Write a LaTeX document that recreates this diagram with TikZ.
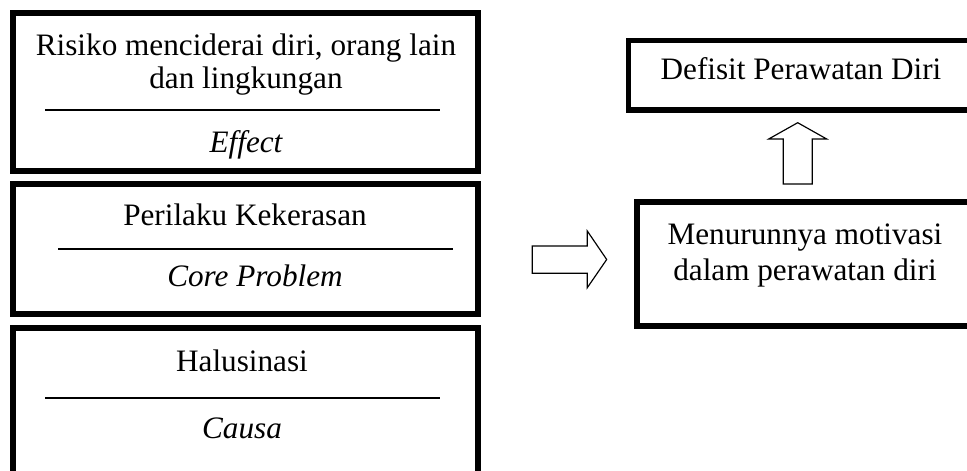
\documentclass[tikz,border=0pt]{standalone}
\usepackage{fontspec}
\setmainfont{Liberation Serif}

\tikzset{
  kotak/.style={line width=2.3pt},
  garis/.style={line width=0.5pt},
  teks/.style={font=\fontsize{12}{13.8}\selectfont, inner sep=0pt, anchor=base},
  panah/.style={line width=0.45pt, line join=miter, fill=white}
}

\begin{document}
\begin{tikzpicture}[x=0.3846pt, y=-0.3846pt]
  \useasboundingbox (0,0) rectangle (967,471);

  % Kolom kiri: effect, core problem, causa
  \draw[kotak] (13,13) rectangle (478,171);
  \draw[kotak] (13,184) rectangle (478,314);
  \draw[kotak] (13,328) rectangle (478,500);

  \node[teks] (risiko) at (246,55) {Risiko menciderai diri, orang lain};
  \node[teks] (risiko2) at (246,88) {dan lingkungan};
  \draw[garis] (45,110) -- (440,110);
  \node[teks, font=\fontsize{12}{13.8}\selectfont\itshape] (effect) at (246,152) {Effect};

  \node[teks] (perilaku) at (245,225) {Perilaku Kekerasan};
  \draw[garis] (58,249) -- (453,249);
  \node[teks, font=\fontsize{12}{13.8}\selectfont\itshape] (core) at (255,286) {Core Problem};

  \node[teks] (halusinasi) at (242,371) {Halusinasi};
  \draw[garis] (45,398) -- (440,398);
  \node[teks, font=\fontsize{12}{13.8}\selectfont\itshape] (causa) at (242,438) {Causa};

  % Kolom kanan
  \draw[kotak] (628.5,40.5) rectangle (990,110);
  \node[teks] (defisit) at (801,79) {Defisit Perawatan Diri};

  \draw[kotak] (637,202) rectangle (990,326);
  \node[teks] (menurun) at (805,244) {Menurunnya motivasi};
  \node[teks] (menurun2) at (805,280) {dalam perawatan diri};

  % Panah blok
  \draw[panah] (532.3,246) -- (587.3,246) -- (587.3,231) -- (606.7,259.5)
    -- (587.3,287.7) -- (587.3,273.3) -- (532.3,273.3) -- cycle;
  \draw[panah] (783.3,184) -- (783.3,139) -- (768.7,139) -- (797.7,122.7)
    -- (826.7,139) -- (812.3,139) -- (812.3,184) -- cycle;
\end{tikzpicture}
\end{document}
